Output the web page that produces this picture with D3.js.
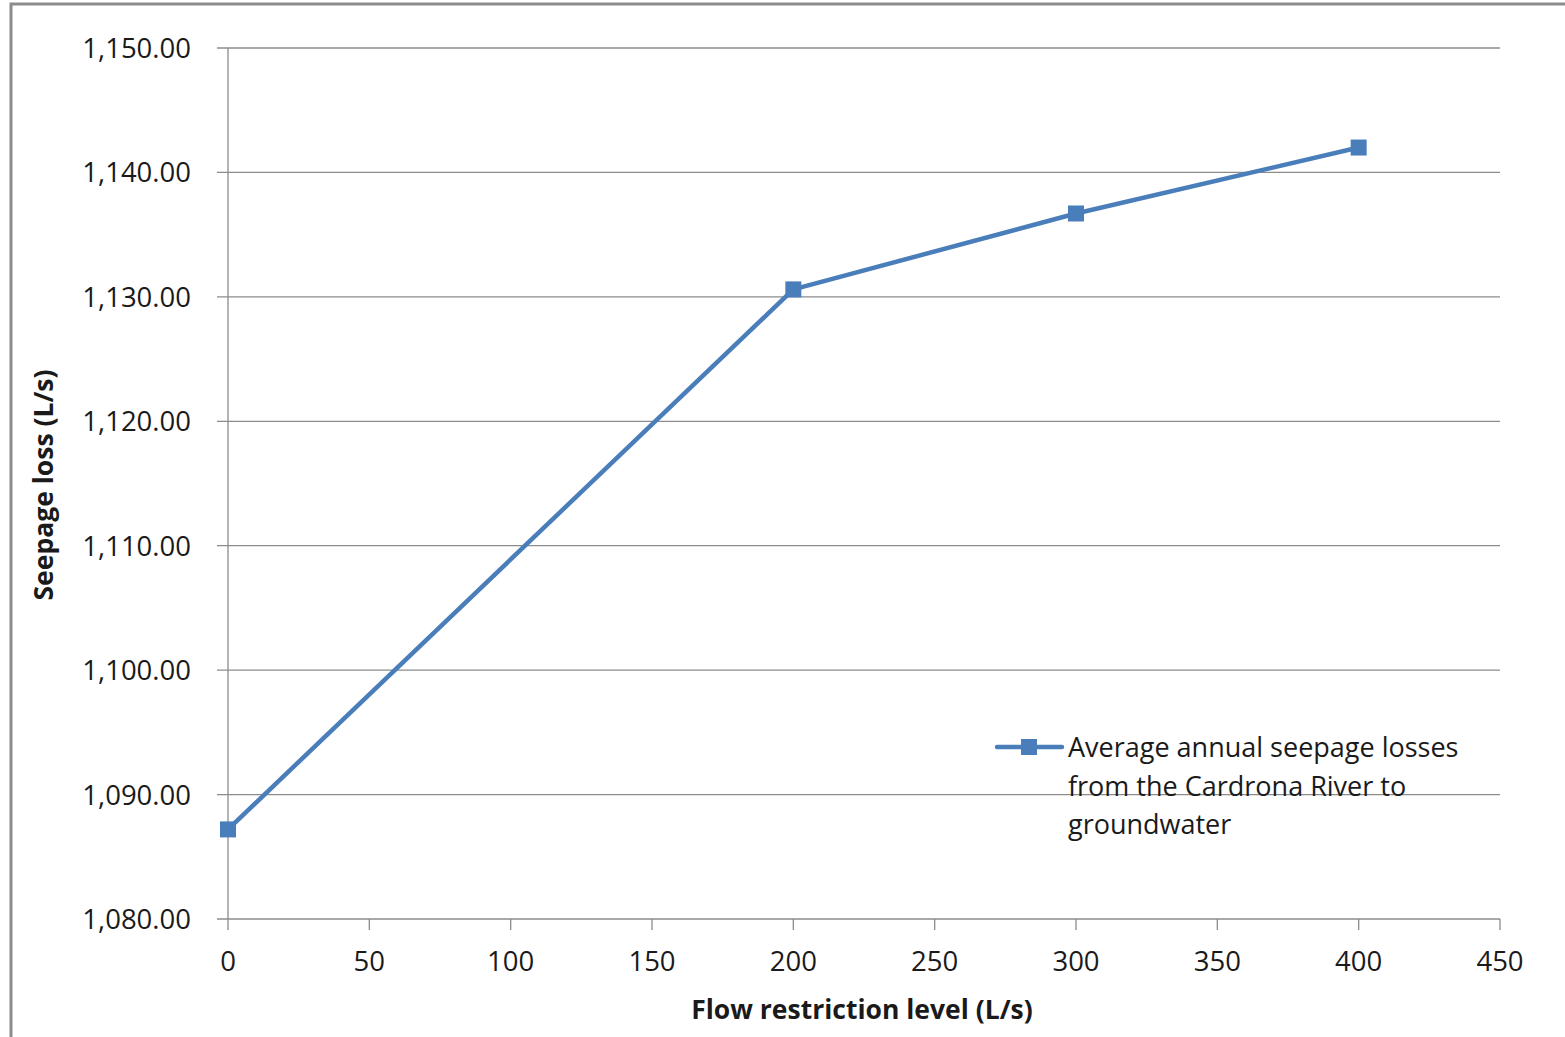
<!DOCTYPE html>
<html><head><meta charset="utf-8">
<script src="https://cdn.jsdelivr.net/npm/d3@7"></script>
<style>body{margin:0;background:#fff}svg{display:block}text{font-family:"Open Sans",sans-serif;fill:#1a1a1a}</style>
</head><body>
<script>
const xValues = [0, 200, 300, 400];
const seepage = [1087.2, 1130.6, 1136.7, 1142.0];
const xTicks = [0, 50, 100, 150, 200, 250, 300, 350, 400, 450];
const yTicks = [1080, 1090, 1100, 1110, 1120, 1130, 1140, 1150];
const seriesName = ["Average annual seepage losses", "from the Cardrona River to", "groundwater"];

const W = 1565, H = 1037;
const svg = d3.select("body").append("svg").attr("width", W).attr("height", H);
svg.append("path").attr("d", `M11,${H} L11,4 L${W},4`).attr("fill","none").attr("stroke","#8c8c8c").attr("stroke-width",3);

const x = d3.scaleLinear().domain([0,450]).range([228,1500]);
const y = d3.scaleLinear().domain([1080,1150]).range([919,48]);
const blue = "#4a7ebb";

svg.append("g").selectAll("line").data(yTicks).join("line")
  .attr("x1", 217).attr("x2", 1500).attr("y1", d=>y(d)).attr("y2", d=>y(d))
  .attr("stroke","#8c8c8c").attr("stroke-width",1.3);
svg.append("line").attr("x1",228).attr("x2",228).attr("y1",48).attr("y2",919).attr("stroke","#8c8c8c").attr("stroke-width",1.3);
svg.append("g").selectAll("line").data(xTicks).join("line")
  .attr("x1", d=>x(d)).attr("x2", d=>x(d)).attr("y1",919).attr("y2",930)
  .attr("stroke","#8c8c8c").attr("stroke-width",1.3);

const fmt = d3.format(",.2f");
svg.append("g").selectAll("text").data(yTicks).join("text")
  .attr("x", 191).attr("y", d=>y(d)+10).attr("text-anchor","end")
  .attr("font-size",27.5).text(d=>fmt(d));
svg.append("g").selectAll("text").data(xTicks).join("text")
  .attr("x", d=>x(d)).attr("y", 971).attr("text-anchor","middle")
  .attr("font-size",27.5).text(d=>d);

svg.append("text").attr("transform","translate(53,485) rotate(-90)").attr("text-anchor","middle")
  .attr("font-size",26.5).attr("font-weight","bold").text("Seepage loss (L/s)");
svg.append("text").attr("x",862).attr("y",1019).attr("text-anchor","middle")
  .attr("font-size",26.5).attr("font-weight","bold").text("Flow restriction level (L/s)");

const pts = xValues.map((v,i)=>[v, seepage[i]]);
svg.append("path").datum(pts).attr("fill","none").attr("stroke",blue).attr("stroke-width",4.5)
  .attr("stroke-linejoin","round")
  .attr("d", d3.line().x(d=>x(d[0])).y(d=>y(d[1])));
svg.append("g").selectAll("rect").data(pts).join("rect")
  .attr("x", d=>x(d[0])-8).attr("y", d=>y(d[1])-8).attr("width",16).attr("height",16).attr("fill",blue);

svg.append("line").attr("x1",997).attr("x2",1062).attr("y1",747).attr("y2",747).attr("stroke",blue).attr("stroke-width",4.5).attr("stroke-linecap","round");
svg.append("rect").attr("x",1021).attr("y",739).attr("width",16).attr("height",16).attr("fill",blue);
svg.append("g").selectAll("text").data(seriesName).join("text")
  .attr("x",1068).attr("y",(d,i)=>757+i*38.5).attr("font-size",27).text(d=>d);
</script>
</body></html>
